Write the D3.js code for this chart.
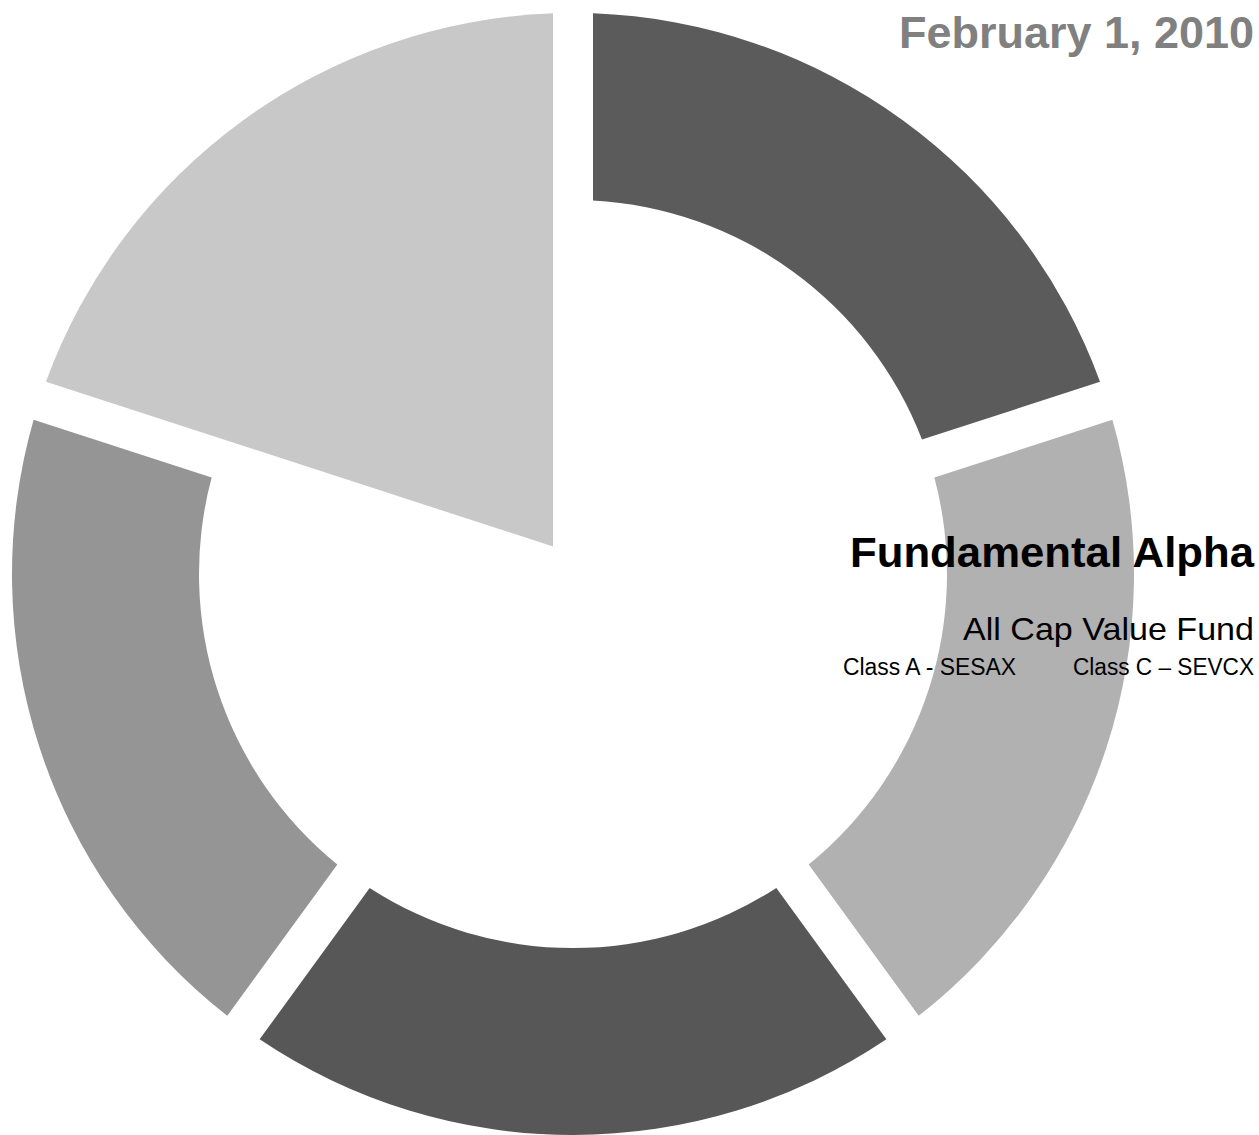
<!DOCTYPE html>
<html>
<head>
<meta charset="utf-8">
<script src="https://cdn.jsdelivr.net/npm/d3@7"></script>
<style>
  html, body { margin: 0; padding: 0; background: #fff; }
  svg { display: block; }
  text { font-family: "Liberation Sans Narrow", "Liberation Sans", Arial, sans-serif; }
</style>
</head>
<body>
<div id="chart"></div>
<script>
// five equal slices, clockwise from 12 o'clock
const segments = ["A", "B", "C", "D", "E"];
const shares = [20, 20, 20, 20, 20];
const shades = ["#5b5b5b", "#b1b1b1", "#575757", "#959595", "#c8c8c8"];
// the last slice is drawn as a full wedge to the centre
const wedgeSegment = "E";

const dateLabel = "February 1, 2010";
const titleLabel = "Fundamental Alpha";
const fundLabel = "All Cap Value Fund";
const classLabels = ["Class A - SESAX", "Class C \u2013 SEVCX"];

const width = 1259, height = 1135;
const cx = 573, cy = 574;
const outerR = 561, innerR = 374;
const halfGap = 20;

const svg = d3.select("#chart").append("svg")
    .attr("width", width)
    .attr("height", height);

const data = segments.map((s, i) => ({name: s, value: shares[i], color: shades[i]}));

const pie = d3.pie()
    .value(d => d.value)
    .sort(null)
    .startAngle(0)
    .endAngle(2 * Math.PI);

const padR = 100;
const arc = d3.arc()
    .outerRadius(outerR)
    .innerRadius(d => {
        if (d.data.name !== wedgeSegment) return innerR;
        // sharp tip where the two gap edges meet
        let span = d.endAngle - d.startAngle;
        return 0.999 * halfGap / Math.sin(span / 2);
    })
    .padRadius(padR)
    .padAngle(2 * Math.asin(halfGap / padR));

const g = svg.append("g")
    .attr("transform", `translate(${cx},${cy})`);

g.selectAll("path")
    .data(pie(data))
    .enter().append("path")
    .attr("d", arc)
    .attr("fill", d => d.data.color);

// texts on the right
const rightX = 1254;

svg.append("text")
    .attr("x", rightX)
    .attr("y", 48)
    .attr("text-anchor", "end")
    .attr("font-size", 44)
    .attr("font-weight", "bold")
    .attr("fill", "#808080")
    .attr("textLength", 355)
    .attr("lengthAdjust", "spacingAndGlyphs")
    .text(dateLabel);

svg.append("text")
    .attr("x", rightX)
    .attr("y", 567)
    .attr("text-anchor", "end")
    .attr("font-size", 43)
    .attr("font-weight", "bold")
    .attr("fill", "#000")
    .attr("textLength", 404)
    .attr("lengthAdjust", "spacingAndGlyphs")
    .text(titleLabel);

svg.append("text")
    .attr("x", rightX)
    .attr("y", 640)
    .attr("text-anchor", "end")
    .attr("font-size", 32)
    .attr("fill", "#000")
    .attr("textLength", 291)
    .attr("lengthAdjust", "spacingAndGlyphs")
    .text(fundLabel);

svg.append("text")
    .attr("x", 843)
    .attr("y", 675)
    .attr("font-size", 23)
    .attr("fill", "#000")
    .attr("textLength", 173)
    .attr("lengthAdjust", "spacingAndGlyphs")
    .text(classLabels[0]);

svg.append("text")
    .attr("x", rightX)
    .attr("y", 675)
    .attr("text-anchor", "end")
    .attr("font-size", 23)
    .attr("fill", "#000")
    .attr("textLength", 181)
    .attr("lengthAdjust", "spacingAndGlyphs")
    .text(classLabels[1]);
</script>
</body>
</html>
